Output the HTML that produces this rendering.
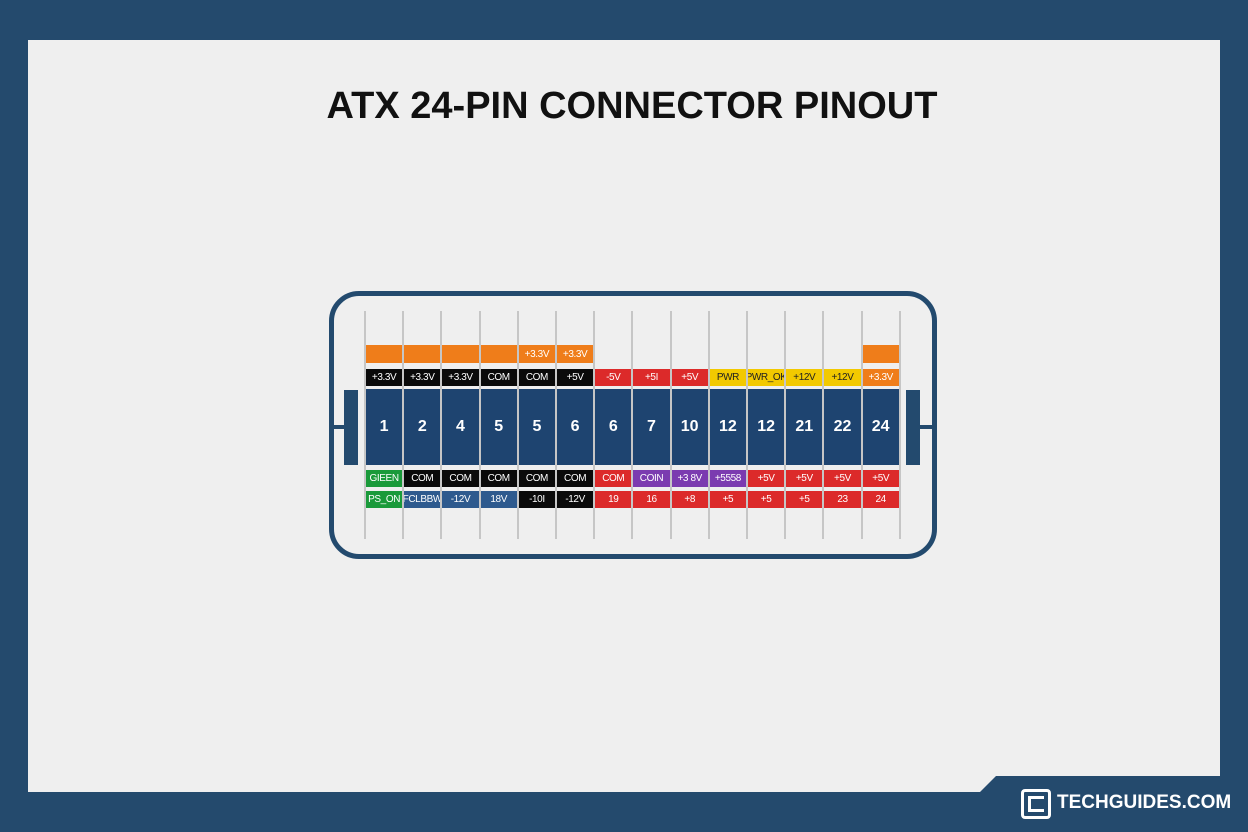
<!DOCTYPE html>
<html><head><style>
body{margin:0;width:1248px;height:832px;background:#244a6d;position:relative;overflow:hidden;font-family:"Liberation Sans",sans-serif}
.panel{position:absolute;left:28px;top:40px;width:1192px;height:752px;background:#efefef;clip-path:polygon(0 0,100% 0,100% 736px,968px 736px,952px 752px,0 752px)}
h1{position:absolute;left:8px;width:1248px;top:85px;margin:0;text-align:center;font-size:38px;font-weight:bold;color:#111}
.conn{position:absolute;left:329px;top:291px;width:598px;height:258px;border:5px solid #234a6e;border-radius:30px}
.vl{position:absolute;top:311px;height:228px;width:2px;background:#c6c6c6}
.c{position:absolute;color:#fff;font-size:10px;text-align:center;display:flex;align-items:center;justify-content:center;white-space:nowrap;overflow:hidden;letter-spacing:-0.4px}
.n{font-size:16px;font-weight:bold;letter-spacing:0}
.latch{position:absolute;background:#234a6e}
.logo{position:absolute;left:1057px;top:792px;color:#fff;font-size:19px;font-weight:bold;white-space:nowrap}
</style></head><body>
<div class="panel"></div>
<h1>ATX 24-PIN CONNECTOR PINOUT</h1>
<div class="conn"></div>
<div class="latch" style="left:344px;top:390px;width:14px;height:75px"></div>
<div class="latch" style="left:330px;top:425px;width:14px;height:4px"></div>
<div class="latch" style="left:906px;top:390px;width:14px;height:75px"></div>
<div class="latch" style="left:920px;top:425px;width:14px;height:4px"></div>
<div id="g"></div>
<div style="position:absolute;left:1021px;top:789px;width:30px;height:30px;border:3px solid #fff;border-radius:4px;box-sizing:border-box"></div>
<div style="position:absolute;left:1028px;top:796px;width:16px;height:16px;border:3px solid #fff;border-right:none;box-sizing:border-box;background:#244a6d"></div>
<div class="logo">TECHGUIDES.COM</div>
<script>
(function(){
const O='#ef7d1a',R='#dc2a2a',Y='#f2c900',G='#1a9a3a',P='#7b3bb0',B='#2e5a8e',K='#0a0a0a';
const tp=[[O,''],[O,''],[O,''],[O,''],[O,'+3.3V'],[O,'+3.3V'],null,null,null,null,null,null,null,[O,'']];
const r1=[[K,'+3.3V'],[K,'+3.3V'],[K,'+3.3V'],[K,'COM'],[K,'COM'],[K,'+5V'],[R,'-5V'],[R,'+5I'],[R,'+5V'],[Y,'PWR'],[Y,'PWR_OK'],[Y,'+12V'],[Y,'+12V'],[O,'+3.3V']];
const nums=['1','2','4','5','5','6','6','7','10','12','12','21','22','24'];
const r3=[[G,'GIEEN'],[K,'COM'],[K,'COM'],[K,'COM'],[K,'COM'],[K,'COM'],[R,'COM'],[P,'COIN'],[P,'+3 8V'],[P,'+5558'],[R,'+5V'],[R,'+5V'],[R,'+5V'],[R,'+5V']];
const r4=[[G,'PS_ON'],[B,'FCLBBW'],[B,'-12V'],[B,'18V'],[K,'-10I'],[K,'-12V'],[R,'19'],[R,'16'],[R,'+8'],[R,'+5'],[R,'+5'],[R,'+5'],[R,'23'],[R,'24']];
let h='';const x0=365,w=38.2;
for(let i=0;i<=14;i++)h+='<div class="vl" style="left:'+(x0+i*w-1).toFixed(1)+'px"></div>';
function cell(i,y,hh,c,t,cls){const l=x0+i*w+1;h+='<div class="c '+(cls||'')+'" style="left:'+l.toFixed(1)+'px;top:'+y+'px;width:'+(w-2).toFixed(1)+'px;height:'+hh+'px;background:'+c+';'+(c==Y?'color:#222':'')+'">'+t+'</div>';}
for(let i=0;i<14;i++){
 if(tp[i])cell(i,345,18,tp[i][0],tp[i][1]);
 cell(i,369,17,r1[i][0],r1[i][1]);
 cell(i,389,76,'#1e4470',nums[i],'n');
 cell(i,470,17,r3[i][0],r3[i][1]);
 cell(i,491,17,r4[i][0],r4[i][1]);
}
document.getElementById('g').innerHTML=h;
})();
</script>
</body></html>
